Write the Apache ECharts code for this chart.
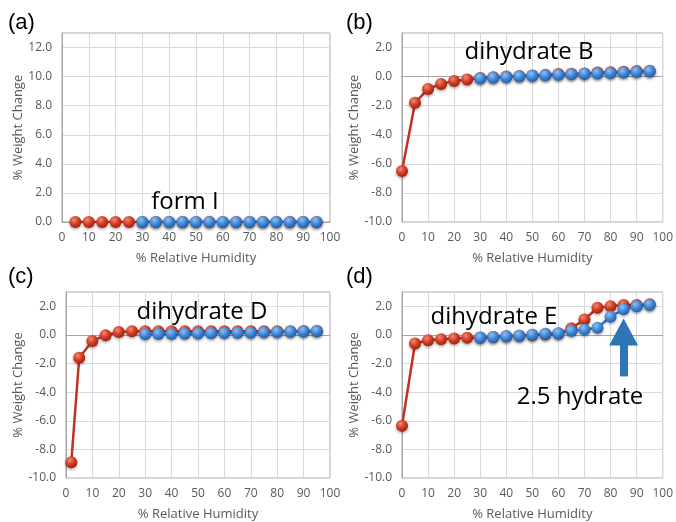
<!DOCTYPE html>
<html>
<head>
<meta charset="utf-8">
<script src="https://cdn.jsdelivr.net/npm/echarts@6/dist/echarts.min.js"></script>
<style>
  html, body { margin: 0; padding: 0; background: #fff; }
  #chart { width: 676px; height: 522px; }
</style>
</head>
<body>
<div id="chart"></div>
<script>
// relative humidity steps
const rhA = [5, 10, 15, 20, 25, 30, 35, 40, 45, 50, 55, 60, 65, 70, 75, 80, 85, 90, 95]
const rhDes = [0, 5, 10, 15, 20, 25, 30, 35, 40, 45, 50, 55, 60, 65, 70, 75, 80, 85, 90, 95]
const rhC = [2, 5, 10, 15, 20, 25, 30, 35, 40, 45, 50, 55, 60, 65, 70, 75, 80, 85, 90, 95]
const rhSorp = [30, 35, 40, 45, 50, 55, 60, 65, 70, 75, 80, 85, 90, 95]

// (a) form I
const aRed = [0, 0, 0, 0, 0, 0, 0, 0, 0, 0, 0, 0, 0, 0, 0, 0, 0, 0, 0]
const aBlue = [0, 0, 0, 0, 0, 0, 0, 0, 0, 0, 0, 0, 0, 0]
// (b) dihydrate B
const bRed = [-6.5, -1.8, -0.85, -0.5, -0.3, -0.2, -0.1, -0.05, 0.0, 0.05, 0.08, 0.12, 0.18, 0.2, 0.22, 0.28, 0.3, 0.33, 0.38, 0.4]
const bBlue = [-0.12, -0.08, -0.03, 0.02, 0.06, 0.1, 0.13, 0.16, 0.2, 0.22, 0.25, 0.28, 0.32, 0.36]
// (c) dihydrate D
const cRed = [-8.9, -1.6, -0.42, -0.02, 0.2, 0.25, 0.25, 0.25, 0.25, 0.25, 0.25, 0.25, 0.25, 0.25, 0.25, 0.25, 0.25, 0.25, 0.27, 0.28]
const cBlue = [0.05, 0.06, 0.07, 0.08, 0.1, 0.12, 0.13, 0.15, 0.16, 0.18, 0.2, 0.22, 0.24, 0.27]
// (d) dihydrate E
const dRed = [-6.35, -0.6, -0.37, -0.3, -0.25, -0.2, -0.18, -0.15, -0.1, -0.05, 0.0, 0.05, 0.1, 0.46, 1.08, 1.9, 2.0, 2.1, 2.1, 2.15]
const dBlue = [-0.2, -0.15, -0.1, -0.05, 0.02, 0.08, 0.12, 0.28, 0.37, 0.5, 1.27, 1.8, 2.0, 2.1]

const yTicksA = [0, 13, 2]
const yTicksBCD = [-10, 3, 2]

const chart = echarts.init(document.getElementById('chart'))

const pairs = (xs, ys) => xs.map((x, i) => [x, ys[i]])

const ball = (light, mid, dark) => ({
  type: 'radial', x: 0.38, y: 0.32, r: 0.7,
  colorStops: [
    { offset: 0, color: light },
    { offset: 0.55, color: mid },
    { offset: 1, color: dark }
  ]
})
const redBall = ball('#f08a74', '#d23a22', '#9e2211')
const blueBall = ball('#8fc0f0', '#3f86d6', '#1f5ea8')

const grids = [
  { left: 62, top: 33, width: 268, height: 189 },
  { left: 402, top: 33, width: 264, height: 189 },
  { left: 66, top: 292, width: 264, height: 189 },
  { left: 402, top: 292, width: 264, height: 189 }
]

const tickColor = '#595959'
const gridLine = { show: true, lineStyle: { color: '#d9d9d9', width: 1 } }

const xAxes = grids.map((g, i) => ({
  type: 'value', gridIndex: i, min: 0, max: 100, interval: 10,
  name: '% Relative Humidity', nameLocation: 'middle', nameGap: 30,
  nameTextStyle: { color: tickColor, fontSize: 13, fontFamily: 'Open Sans' },
  axisLine: { show: true, lineStyle: { color: '#a6a6a6' } },
  axisTick: { show: false },
  axisLabel: { color: tickColor, fontSize: 12, fontFamily: 'Open Sans', margin: 10 },
  splitLine: gridLine
}))

const yAxes = grids.map((g, i) => {
  const t = i === 0 ? yTicksA : yTicksBCD
  return {
    type: 'value', gridIndex: i, min: t[0], max: t[1], interval: t[2],
    name: '% Weight Change', nameLocation: 'middle', nameGap: 36,
    nameTextStyle: { color: tickColor, fontSize: 13, fontFamily: 'Open Sans' },
    axisLine: { show: true, lineStyle: { color: '#a6a6a6' } },
    axisTick: { show: false },
    axisLabel: {
      color: tickColor, fontSize: 12, fontFamily: 'Open Sans', margin: 10,
      formatter: v => (Math.round(v) % 2 === 0 && Math.abs(v - Math.round(v)) < 1e-9) ? v.toFixed(1) : ''
    },
    splitLine: gridLine
  }
})

const panelData = [
  [rhA, aRed, aBlue],
  [rhDes, bRed, bBlue],
  [rhC, cRed, cBlue],
  [rhDes, dRed, dBlue]
]

const series = []
panelData.forEach(([rh, red, blue], i) => {
  series.push({
    type: 'line', xAxisIndex: i, yAxisIndex: i, z: 2,
    data: pairs(rh, red),
    symbol: 'circle', symbolSize: 12,
    lineStyle: { color: '#c0321f', width: 2.5 },
    itemStyle: { color: redBall, shadowColor: 'rgba(0,0,0,0.35)', shadowBlur: 3, shadowOffsetY: 1.5 }
  })
  const s = {
    type: 'line', xAxisIndex: i, yAxisIndex: i, z: 3,
    data: pairs(rhSorp, blue),
    symbol: 'circle', symbolSize: 12,
    lineStyle: { color: '#2f72c4', width: 2.5 },
    itemStyle: { color: blueBall, shadowColor: 'rgba(0,0,0,0.35)', shadowBlur: 3, shadowOffsetY: 1.5 }
  }
  if (i === 3) {
    // arrow pointing at the 2.5 hydrate step
    s.markLine = {
      silent: true,
      symbol: ['none', 'triangle'],
      symbolSize: [29, 27],
      label: { show: false },
      lineStyle: { color: '#2e75b6', width: 8, type: 'solid' },
      data: [[{ coord: [85, -2.9] }, { coord: [85, 0.2] }]]
    }
  }
  series.push(s)
})

const textStyle = (txt, size) => ({
  text: txt, fill: '#000', font: size + 'px "Open Sans"', textAlign: 'center', textVerticalAlign: 'middle'
})
const panelLabel = (txt) => ({
  text: txt, fill: '#000', font: '22px "Liberation Sans"', textAlign: 'left', textVerticalAlign: 'middle'
})

const option = {
  animation: false,
  backgroundColor: '#fff',
  grid: grids.map(g => Object.assign({ show: true, borderColor: '#a6a6a6', borderWidth: 1 }, g)),
  xAxis: xAxes,
  yAxis: yAxes,
  series: series,
  graphic: [
    { type: 'text', x: 8, y: 23, style: panelLabel('(a)') },
    { type: 'text', x: 346, y: 23, style: panelLabel('(b)') },
    { type: 'text', x: 8, y: 277, style: panelLabel('(c)') },
    { type: 'text', x: 346, y: 277, style: panelLabel('(d)') },
    { type: 'text', x: 185, y: 202, z: 10, style: textStyle('form I', 24) },
    { type: 'text', x: 529, y: 52, z: 10, style: textStyle('dihydrate B', 24) },
    { type: 'text', x: 202, y: 312, z: 10, style: textStyle('dihydrate D', 24) },
    { type: 'text', x: 494, y: 317, z: 10, style: textStyle('dihydrate E', 24) },
    { type: 'text', x: 580, y: 397, z: 10, style: textStyle('2.5 hydrate', 24) }
  ]
}

chart.setOption(option)
</script>
</body>
</html>
